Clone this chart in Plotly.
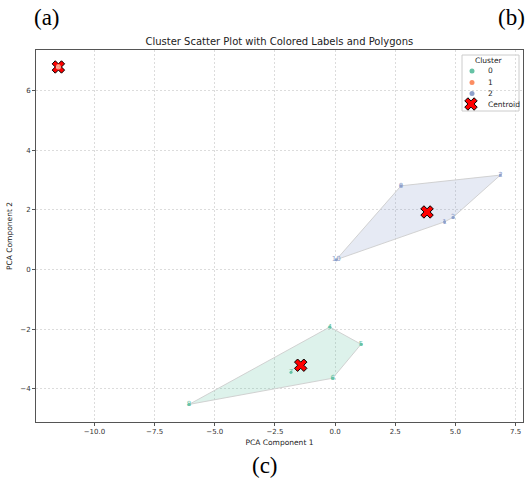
import plotly.graph_objects as go
import numpy as np

# ---- data ----
point_ids = [0, 1, 2, 3, 4, 5, 6, 7, 8, 9, 10]
pc1 = [2.74, 4.55, 6.87, 4.9, -0.22, 1.08, -0.1, -1.83, -6.07, -11.5, 0.05]
pc2 = [2.81, 1.6, 3.17, 1.75, -1.93, -2.51, -3.65, -3.45, -4.53, 6.8, 0.33]
cluster = [2, 2, 2, 2, 0, 0, 0, 0, 0, 1, 2]
cluster_names = ["0", "1", "2"]
cluster_colors = ["#66c2a5", "#fc8d62", "#8da0cb"]
cluster_fills = ["rgba(102,194,165,0.22)", "rgba(252,141,98,0.22)", "rgba(141,160,203,0.22)"]
x_ticks = [-10.0, -7.5, -5.0, -2.5, 0.0, 2.5, 5.0, 7.5]
y_ticks = [-4, -2, 0, 2, 4, 6]

FONT = "DejaVu Sans"
W, H = 525, 480
L, R, T, B = 36, 2, 50, 58


def hull(pts):
    pts = sorted(set(pts))
    if len(pts) <= 2:
        return pts
    def cross(o, a, b):
        return (a[0]-o[0])*(b[1]-o[1]) - (a[1]-o[1])*(b[0]-o[0])
    lower, upper = [], []
    for p in pts:
        while len(lower) >= 2 and cross(lower[-2], lower[-1], p) <= 0:
            lower.pop()
        lower.append(p)
    for p in reversed(pts):
        while len(upper) >= 2 and cross(upper[-2], upper[-1], p) <= 0:
            upper.pop()
        upper.append(p)
    return lower[:-1] + upper[:-1]


fig = go.Figure()

# polygons
for c in range(3):
    pts = [(pc1[i], pc2[i]) for i in range(len(pc1)) if cluster[i] == c]
    if len(pts) >= 3:
        h = hull(pts)
        hx = [p[0] for p in h] + [h[0][0]]
        hy = [p[1] for p in h] + [h[0][1]]
        fig.add_trace(go.Scatter(x=hx, y=hy, mode="lines", fill="toself",
                                 fillcolor=cluster_fills[c],
                                 line=dict(color="rgba(205,205,205,0.9)", width=1),
                                 showlegend=False, hoverinfo="skip"))

# centroids
cx, cy = [], []
for c in range(3):
    xs = [pc1[i] for i in range(len(pc1)) if cluster[i] == c]
    ys = [pc2[i] for i in range(len(pc2)) if cluster[i] == c]
    cx.append(float(np.mean(xs)))
    cy.append(float(np.mean(ys)))

# cluster points
for c in range(3):
    idx = [i for i in range(len(pc1)) if cluster[i] == c]
    fig.add_trace(go.Scatter(x=[pc1[i] for i in idx], y=[pc2[i] for i in idx],
                             mode="markers", name=cluster_names[c], showlegend=False,
                             marker=dict(color=cluster_colors[c], size=3)))

fig.add_trace(go.Scatter(x=cx, y=cy, mode="markers", name="Centroid", showlegend=False,
                         marker=dict(symbol="x", color="red", size=11,
                                     line=dict(color="black", width=1))))

# orange point drawn over its centroid
idx1 = [i for i in range(len(pc1)) if cluster[i] == 1]
fig.add_trace(go.Scatter(x=[pc1[i] for i in idx1], y=[pc2[i] for i in idx1],
                         mode="markers", showlegend=False, hoverinfo="skip",
                         marker=dict(color="rgba(252,190,180,0.9)", size=5)))

# labels
for c in range(3):
    idx = [i for i in range(len(pc1)) if cluster[i] == c]
    fig.add_trace(go.Scatter(x=[pc1[i] for i in idx], y=[pc2[i] for i in idx],
                             mode="text", text=[str(point_ids[i]) for i in idx],
                             textposition="middle center",
                             textfont=dict(color=cluster_colors[c], size=7, family=FONT),
                             showlegend=False, hoverinfo="skip"))

# ---- compact legend drawn on a pixel-space overlay axis ----
leg_x0, leg_y0, leg_x1, leg_y1 = 462, 55, 519, 111
leg_rows = [71, 82.5, 93.5, 104]
leg_mark_x = 472
leg_text_x = 486
for c in range(3):
    fig.add_trace(go.Scatter(x=[leg_mark_x], y=[leg_rows[c]], xaxis="x2", yaxis="y2",
                             mode="markers", showlegend=False, hoverinfo="skip",
                             marker=dict(color=cluster_colors[c], size=5)))
fig.add_trace(go.Scatter(x=[leg_mark_x - 1], y=[leg_rows[3]], xaxis="x2", yaxis="y2",
                         mode="markers", showlegend=False, hoverinfo="skip",
                         marker=dict(symbol="x", color="red", size=11,
                                     line=dict(color="black", width=1))))

pw, ph = W - L - R, H - T - B


def px2paper(px, py):
    return (px - L) / pw, (H - B - py) / ph


def ann(text, px, py, size, family, xanchor="center", color="black"):
    x, y = px2paper(px, py)
    return dict(text=text, x=x, y=y, xref="paper", yref="paper", showarrow=False,
                xanchor=xanchor, yanchor="middle",
                font=dict(family=family, size=size, color=color))


annotations = [
    ann("(a)", 47, 17, 23, "Liberation Serif"),
    ann("(b)", 511, 17, 23, "Liberation Serif"),
    ann("(c)", 265, 466, 23, "Liberation Serif"),
    ann("Cluster", 489, 60.5, 7.5, FONT, color="#222"),
]
for c in range(3):
    annotations.append(ann(cluster_names[c], leg_text_x, leg_rows[c], 7.5, FONT, "left", "#222"))
annotations.append(ann("Centroid", leg_text_x, leg_rows[3], 7.5, FONT, "left", "#222"))

bx0, by1 = px2paper(leg_x0, leg_y0)
bx1, by0 = px2paper(leg_x1, leg_y1)
shapes = [dict(type="rect", xref="paper", yref="paper", x0=bx0, x1=bx1, y0=by0, y1=by1,
               line=dict(color="#cccccc", width=1), fillcolor="white",
               layer="between")]

axis_common = dict(showline=True, mirror=True, linecolor="#555", linewidth=1,
                   showgrid=True, gridcolor="#dcdcdc", griddash="2px,2px", gridwidth=1,
                   zeroline=False, ticks="outside", ticklen=3, tickcolor="#555",
                   tickfont=dict(size=7, color="#333", family=FONT))

fig.update_layout(
    width=W, height=H,
    margin=dict(l=L, r=R, t=T, b=B, autoexpand=False),
    paper_bgcolor="white", plot_bgcolor="white",
    showlegend=False,
    title=dict(text="Cluster Scatter Plot with Colored Labels and Polygons",
               x=0.532, xanchor="center", y=0.913, yanchor="middle",
               font=dict(size=10, color="#222", family=FONT)),
    xaxis=dict(range=[-12.43, 7.81], tickvals=x_ticks,
               ticktext=[("−" if v < 0 else "") + f"{abs(v):.1f}" for v in x_ticks],
               title=dict(text="PCA Component 1", font=dict(size=7.5, color="#222", family=FONT),
                          standoff=4),
               **axis_common),
    yaxis=dict(range=[-5.12, 7.37], tickvals=y_ticks,
               ticktext=[("−" if v < 0 else "") + f"{abs(v)}" for v in y_ticks],
               title=dict(text="PCA Component 2", font=dict(size=7.5, color="#222", family=FONT),
                          standoff=6),
               **axis_common),
    xaxis2=dict(overlaying="x", range=[L, W - R], visible=False, fixedrange=True),
    yaxis2=dict(overlaying="y", range=[H - B, T], visible=False, fixedrange=True),
    annotations=annotations,
    shapes=shapes,
)

fig.write_html("out.html", config={"displayModeBar": False},
               post_script="document.body.style.margin='0';document.body.style.overflow='hidden';")
